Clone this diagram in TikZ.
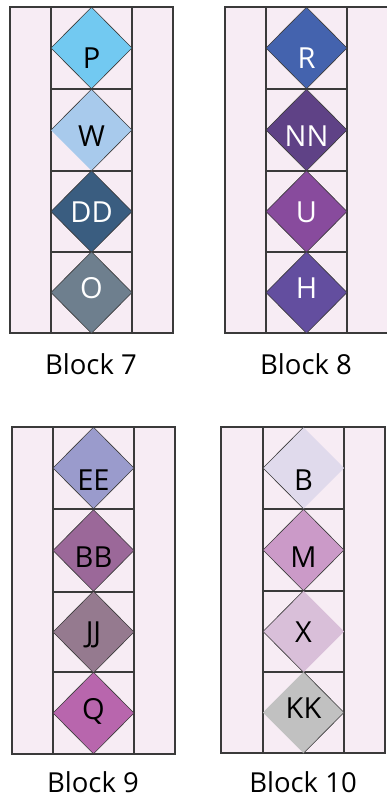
\documentclass[tikz,border=0pt]{standalone}
\usepackage{fontspec}
\setmainfont{Open Sans}
\usetikzlibrary{shapes.geometric}
\definecolor{bg}{HTML}{F7ECF4}
\definecolor{ln}{HTML}{3A3A3A}
\definecolor{cP}{HTML}{72C9F1}
\definecolor{cW}{HTML}{A8CAEC}
\definecolor{cDD}{HTML}{3A5D80}
\definecolor{cO}{HTML}{6E7F8E}
\definecolor{cR}{HTML}{4463AE}
\definecolor{cNN}{HTML}{5F4286}
\definecolor{cU}{HTML}{884B9D}
\definecolor{cH}{HTML}{634E9F}
\definecolor{cEE}{HTML}{9A9BCC}
\definecolor{cBB}{HTML}{9B6899}
\definecolor{cJJ}{HTML}{957A8F}
\definecolor{cQ}{HTML}{B866AD}
\definecolor{cB}{HTML}{E0DAEC}
\definecolor{cM}{HTML}{CB9AC8}
\definecolor{cX}{HTML}{D9BFD9}
\definecolor{cKK}{HTML}{C1C1C1}
\begin{document}
\begin{tikzpicture}[x=1pt,y=-1pt,
  frame/.style={draw=ln,line width=1.3pt},
  gem/.style={shape=diamond,minimum width=81pt,minimum height=81.5pt,inner sep=0pt,outer sep=0pt,draw=ln,line width=0.6pt},
  bare/.style={gem,draw=none},
  gemline/.style={draw=ln,line width=0.6pt},
  gemlbl/.style={anchor=base,font=\fontsize{29}{30}\selectfont,inner sep=0pt},
  blocklbl/.style={anchor=base,font=\fontsize{27.5}{28}\selectfont,inner sep=0pt}]
\useasboundingbox (0,0) rectangle (386,798);
\fill[white] (0,0) rectangle (386,798);

% ---------- Block 7 ----------
\fill[bg] (10,7) rectangle (173,333);
\draw[frame] (10,7) rectangle (173,333);
\draw[frame] (51,7) -- (51,333) (132,7) -- (132,333);
\draw[frame] (51,89) -- (132,89) (51,171) -- (132,171) (51,252) -- (132,252);
\node[gem,fill=cP] (P) at (91.5,48) {};
\node[bare,fill=cW] (W) at (91.5,130) {};
\draw[gemline] (W.south) -- (W.east) -- (W.north) -- (W.west);
\node[gem,fill=cDD] (DD) at (91.5,211.5) {};
\node[gem,fill=cO] (O) at (91.5,292.5) {};
\node[gemlbl] (tP) at (91.5,68) {P};
\node[gemlbl] (tW) at (91.5,146) {W};
\node[gemlbl,text=white] (tDD) at (91.5,222) {DD};
\node[gemlbl,text=white] (tO) at (91.5,298) {O};
\node[blocklbl] (L7) at (91,374) {Block 7};

% ---------- Block 8 ----------
\fill[bg] (225,7) rectangle (390,333);
\draw[frame] (225,7) rectangle (390,333);
\draw[frame] (266,7) -- (266,333) (347,7) -- (347,333);
\draw[frame] (266,89) -- (347,89) (266,171) -- (347,171) (266,252) -- (347,252);
\node[gem,fill=cR] (R) at (306.5,48) {};
\node[gem,fill=cNN] (NN) at (306.5,130) {};
\node[gem,fill=cU] (U) at (306.5,211.5) {};
\node[gem,fill=cH] (H) at (306.5,292.5) {};
\node[gemlbl,text=white] (tR) at (306.5,68) {R};
\node[gemlbl,text=white] (tNN) at (306.5,146) {NN};
\node[gemlbl,text=white] (tU) at (306.5,222) {U};
\node[gemlbl,text=white] (tH) at (306.5,298) {H};
\node[blocklbl] (L8) at (306,374) {Block 8};

% ---------- Block 9 ----------
\fill[bg] (12,427) rectangle (175,754);
\draw[frame] (12,427) rectangle (175,754);
\draw[frame] (53,427) -- (53,754) (134,427) -- (134,754);
\draw[frame] (53,509) -- (134,509) (53,592) -- (134,592) (53,672) -- (134,672);
\node[gem,fill=cEE] (EE) at (93.5,468) {};
\node[gem,fill=cBB] (BB) at (93.5,550.5) {};
\node[gem,fill=cJJ] (JJ) at (93.5,632) {};
\node[gem,fill=cQ] (Q) at (93.5,713) {};
\node[gemlbl] (tEE) at (93.5,490) {EE};
\node[gemlbl] (tBB) at (93.5,567) {BB};
\node[gemlbl] (tJJ) at (93.5,642) {JJ};
\node[gemlbl] (tQ) at (93.5,719) {Q};
\node[blocklbl] (L9) at (93,792) {Block 9};

% ---------- Block 10 ----------
\fill[bg] (221,427) rectangle (385,753);
\draw[frame] (221,427) rectangle (385,753);
\draw[frame] (263,427) -- (263,753) (344,427) -- (344,753);
\draw[frame] (263,509) -- (344,509) (263,591) -- (344,591) (263,672) -- (344,672);
\node[bare,fill=cB] (B) at (303.5,468) {};
\draw[gemline] (B.north) -- (B.west) -- (B.south);
\node[gem,fill=cM] (M) at (303.5,550) {};
\node[bare,fill=cX] (X) at (303.5,631.5) {};
\draw[gemline] (X.north) -- (X.west) -- (X.south);
\node[bare,fill=cKK] (KK) at (303.5,712.5) {};
\draw[gemline] (KK.north) -- (KK.east) -- (KK.south);
\node[gemlbl] (tB) at (303.5,490) {B};
\node[gemlbl] (tM) at (303.5,567) {M};
\node[gemlbl] (tX) at (303.5,642) {X};
\node[gemlbl] (tKK) at (303.5,718) {KK};
\node[blocklbl] (L10) at (303,792) {Block 10};
\end{tikzpicture}
\end{document}
